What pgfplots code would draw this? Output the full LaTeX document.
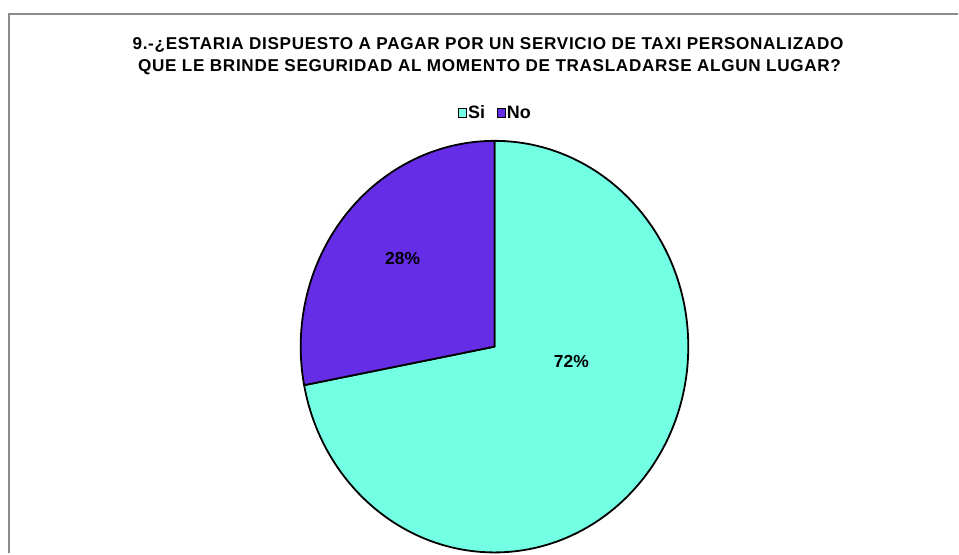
\documentclass[border=0pt]{standalone}
\usepackage{pgfplots}
\usepackage{pgfplotstable}
\pgfplotsset{compat=1.18}
\usepackage{fontspec}
\setmainfont{Liberation Sans}
\newfontfamily\titlefont[LetterSpace=4.0]{Liberation Sans}
\definecolor{siColor}{HTML}{73FFE4}
\definecolor{noColor}{HTML}{662DE6}
\definecolor{frameGray}{HTML}{8C8C8C}
\pgfplotstableread{
label value
Si 72
No 28
}\piedata
\begin{document}
\begin{tikzpicture}
\begin{axis}[
  scale only axis, width=959bp, height=554bp,
  xmin=0, xmax=959, ymin=0, ymax=554,
  axis lines=none, ticks=none, clip=false,
  legend columns=2,
  legend style={draw=none, fill=none, at={(axis cs:495.5,441)}, anchor=center,
    inner sep=0pt,
    nodes={inner sep=1.5bp},
    font=\bfseries\fontsize{18}{20}\selectfont,
    /tikz/every even column/.append style={column sep=10bp}},
  legend image code/.code={\draw[#1, line width=0.9bp] (0bp,-4.5bp) rectangle (8bp,4.5bp);},
]
\path (axis cs:0,0) rectangle (axis cs:959,554);
\pgfplotstablegetelem{0}{value}\of\piedata \let\vSi\pgfplotsretval
\pgfplotstablegetelem{1}{value}\of\piedata \let\vNo\pgfplotsretval
\pgfmathsetmacro\angSi{90-3.6*\vSi}
% frame
\draw[frameGray, line width=2bp] (axis cs:9.5,0) -- (axis cs:9.5,539.5) -- (axis cs:959,539.5);
% pie slices
\filldraw[fill=siColor, draw=black, line width=1.8bp, line join=round]
  (axis cs:495,207) -- ++(90:194bp and 206bp)
  arc[start angle=90, end angle=\angSi, x radius=194bp, y radius=206bp] -- cycle;
\filldraw[fill=noColor, draw=black, line width=1.8bp, line join=round]
  (axis cs:495,207) -- ++(\angSi:194bp and 206bp)
  arc[start angle=\angSi, end angle=-270, x radius=194bp, y radius=206bp] -- cycle;
% labels
\node[font=\bfseries\fontsize{17.5}{18}\selectfont] at (axis cs:572,192) {\pgfmathprintnumber[assume math mode=true]{\vSi}\%};
\node[font=\bfseries\fontsize{17.5}{18}\selectfont] at (axis cs:403,295) {\pgfmathprintnumber[assume math mode=true]{\vNo}\%};
% title
\node[font=\titlefont\bfseries\fontsize{17.2}{18}\selectfont] at (axis cs:488.5,509) {9.-¿ESTARIA DISPUESTO A PAGAR POR UN SERVICIO DE TAXI PERSONALIZADO};
\node[font=\titlefont\bfseries\fontsize{17.2}{18}\selectfont] at (axis cs:490,487) {QUE LE BRINDE SEGURIDAD AL MOMENTO DE TRASLADARSE ALGUN LUGAR?};
\addlegendimage{fill=siColor, draw=black}
\addlegendentry{Si}
\addlegendimage{fill=noColor, draw=black}
\addlegendentry{No}
\end{axis}
\end{tikzpicture}
\end{document}
